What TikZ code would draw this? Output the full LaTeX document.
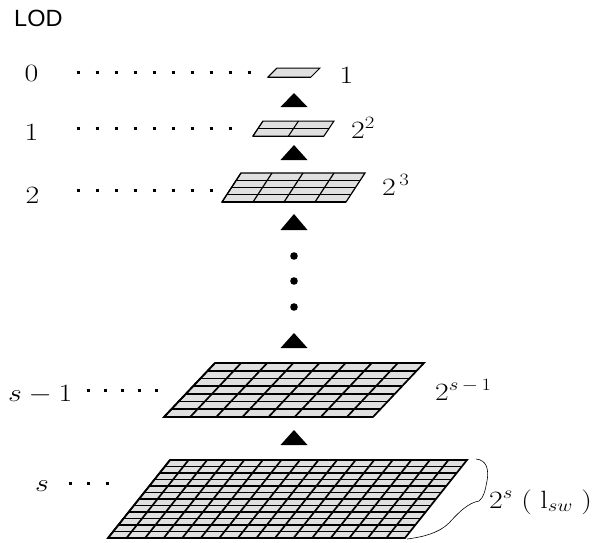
\documentclass[tikz,border=0pt]{standalone}
\usepackage{fontspec}
\newfontfamily\lodfont{Liberation Sans}
\usetikzlibrary{positioning}
\DeclareMathSizes{25}{25}{19}{14}
\definecolor{cellgray}{HTML}{E0E0E0}
\tikzset{
  lbl/.style={inner sep=0pt,anchor=base,xscale=1.2,font=\fontsize{25}{30}\selectfont},
  leader/.style={line width=3pt,dash pattern=on 3pt off 16pt},
  lodarrow/.style={fill=black},
}
% [opts]{x}{y}{width}{height}{skew}{cols}{rows}, (x,y) = lower left corner
\newcommand\lodgrid[8][]{%
  \begin{scope}[shift={(#2,#3)},x={(#4pt/#7,0pt)},y={(#6pt/#8,#5pt/#8)},line width=1pt,#1]
    \fill[cellgray] (0,0) -- (#7,0) -- (#7,#8) -- (0,#8) -- cycle;
    \foreach \i in {1,...,#7} \draw (\i-1,0) -- (\i-1,#8);
    \foreach \j in {1,...,#8} \draw (0,\j-1) -- (#7,\j-1);
    \draw (0,0) -- (#7,0) -- (#7,#8) -- (0,#8) -- cycle;
  \end{scope}}

\begin{document}
\begin{tikzpicture}[x=1pt,y=-1pt]
\useasboundingbox (0,0) rectangle (603,542);

\node[anchor=base west,inner sep=0pt,font=\lodfont\fontsize{23.5}{28}\selectfont] (lod) at (14,26) {LOD};

% levels
\lodgrid{268}{77}{43}{9}{9}{1}{1}
\lodgrid{253}{136}{71}{15}{10}{2}{2}
\lodgrid[line width=1.2pt]{222}{202}{124}{29}{19}{4}{4}
\lodgrid[line width=1.7pt]{164}{417}{209}{54}{51}{8}{7}
\lodgrid[line width=1.7pt]{108}{538}{297}{78}{62}{16}{12}

% left labels and dots
\node[lbl] (l0) at (31.5,81.5) {$0$};
\node[lbl] (l1) at (31.5,140) {$1$};
\node[lbl] (l2) at (32.5,203) {$2$};
\node[lbl,anchor=base west] (ls1) at (8,401.5) {$s-1$};
\node[lbl] (ls) at (42,491) {$s$};
\coordinate (d0) at (76.5,72);
\coordinate (d1) at (76.5,128);
\coordinate (d2) at (76.5,190);
\coordinate (ds1) at (86.5,390);
\coordinate (ds) at (68.5,483);
\draw[leader] (d0) -- ++(174,0);
\draw[leader] (d1) -- ++(155,0);
\draw[leader] (d2) -- ++(136,0);
\draw[leader,dash pattern=on 3pt off 14pt] (ds1) -- ++(71,0);
\draw[leader,dash pattern=on 3pt off 15.5pt] (ds) -- ++(40,0);

% right labels
\node[lbl] (r0) at (346.5,83) {$1$};
\node[lbl,anchor=base west] (r1) at (351,138) {$2^2$};
\node[lbl,anchor=base west] (r2) at (382,195) {$2^{\,3}$};
\node[lbl,anchor=base west] (rs1) at (435,400) {$2^{s\,-\,1}$};
\node[lbl,anchor=base west] (rs) at (489,508) {$2^s\;(\;\mathrm{l}_{sw}\;)$};

% arrows
\foreach \ya/\yb in {93/107,145/160,214/230,333/348,430/445}
  \fill[lodarrow] (294,\ya) -- (307.5,\yb) -- (280.5,\yb) -- cycle;
\foreach \yy in {256,281,307}
  \fill (294,\yy) circle (3.8pt);

% brace
\draw[line width=0.6pt] (476,459) .. controls (487,460) and (489,470) .. (487,481)
  .. controls (485,491) and (484,497) .. (479,501)
  .. controls (468,503) and (459,512) .. (449,523)
  .. controls (439,533) and (423,537) .. (407,539);
\end{tikzpicture}
\end{document}
